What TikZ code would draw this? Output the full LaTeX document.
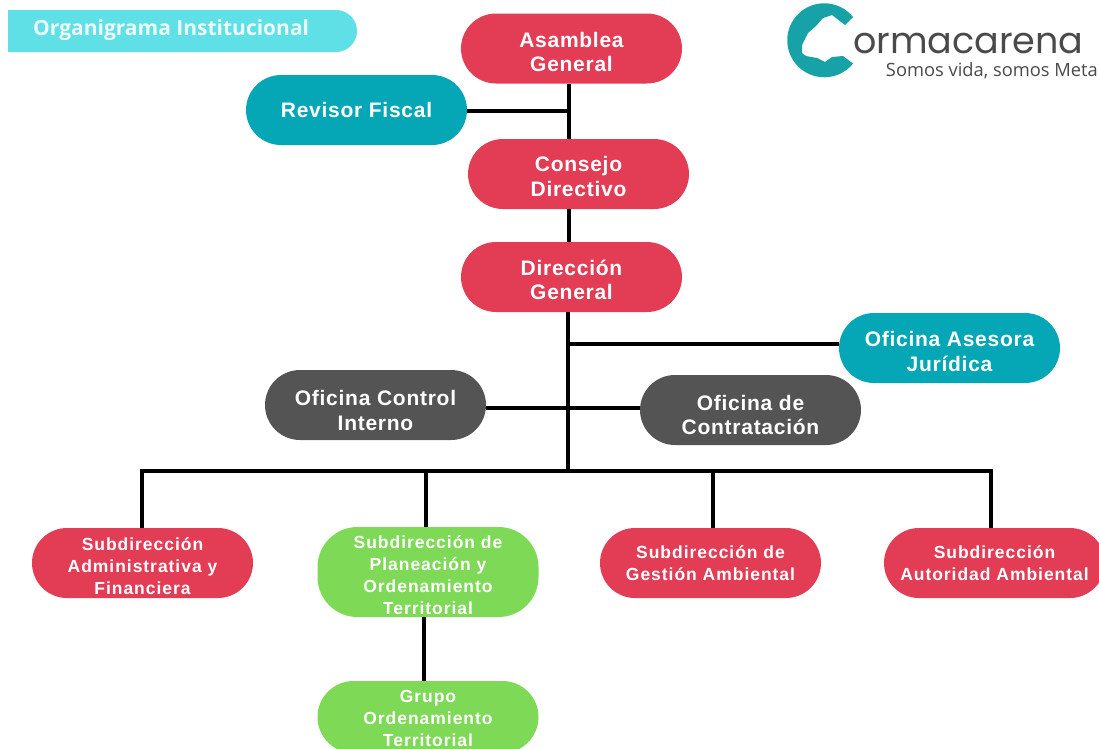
\documentclass[tikz,border=0pt]{standalone}
\usepackage{fontspec}
\newfontfamily\boxfont[LetterSpace=3.5]{Liberation Sans}
\newfontfamily\smallfont[LetterSpace=5.5]{Liberation Sans}
\newfontfamily\titlefont{Open Sans}
\newfontfamily\logofont{Poppins}
\newfontfamily\tagfont{Open Sans}
\newcommand\dn[1]{\rule{0pt}{#1pt}}
\definecolor{redbox}{HTML}{E23D55}
\definecolor{tealbox}{HTML}{05A7B6}
\definecolor{graybox}{HTML}{545454}
\definecolor{greenbox}{HTML}{7ED957}
\definecolor{titlebox}{HTML}{5FE0E6}
\definecolor{logoteal}{HTML}{17A2A8}
\definecolor{logogray}{HTML}{4A4A4A}
\tikzset{
  x=1pt,y=-1pt,
  pill/.style={rectangle,rounded corners=35pt,minimum width=221pt,minimum height=70pt,inner sep=0pt,
    text=white,align=center,font=\boxfont\fontsize{21}{24.5}\selectfont\bfseries},
  small/.style={font=\smallfont\fontsize{17.5}{22}\selectfont\bfseries},
  link/.style={draw=black,line width=4pt},
}
\begin{document}
\begin{tikzpicture}
\useasboundingbox (0,0) rectangle (1099,748);
\clip (0,0) rectangle (1099,748);
% title
\fill[titlebox] (8,10) -- (336,10) arc[start angle=90,end angle=-90,radius=21pt] -- (8,52) -- cycle;
\node[text=white!88!titlebox,font=\titlefont\fontsize{21}{22}\selectfont\bfseries,anchor=west,inner sep=0pt] (title) at (33,30.5) {Organigrama Institucional};
% logo
\fill[logoteal] (853,17) arc[start angle=39,end angle=321,radius=37pt]
  -- (843,56) -- (832,57) -- (825,62) -- (817,58) -- (806,56) -- (802,53) -- (802,45) -- (808,33) -- (816,26) -- (823,18) -- (832,15) -- (845,25) -- cycle;
\node[text=logogray,font=\logofont\fontsize{36.5}{40}\selectfont,anchor=base west,inner sep=0pt] (logoname) at (853,53) {ormacarena};
\node[text=logogray,font=\tagfont\fontsize{18.3}{20}\selectfont,anchor=base east,inner sep=0pt] (logotag) at (1098,76) {Somos vida, somos Meta};
% junctions
\coordinate (trunk) at (569,0);
\coordinate (trunkb) at (568,0);
\coordinate (busy) at (0,471);
\coordinate (rev) at (0,111);
\coordinate (ase) at (0,344);
\coordinate (ofi) at (0,408);
\coordinate (dropa) at (142,0);
\coordinate (dropb) at (426,0);
\coordinate (dropc) at (713,0);
\coordinate (dropd) at (991,0);
\coordinate (dropg) at (424,0);
% nodes
\node[pill,fill=redbox] (asamblea) at (571.5,48.5) {\dn{22}Asamblea\\General};
\node[pill,fill=tealbox] (revisor) at (356.5,110) {Revisor Fiscal};
\node[pill,fill=redbox] (consejo) at (578.5,174) {\dn{20}Consejo\\Directivo};
\node[pill,fill=redbox] (direccion) at (571.5,277) {\dn{21}Dirección\\General};
\node[pill,fill=tealbox] (asesora) at (949.5,348) {\dn{22}Oficina Asesora\\Jurídica};
\node[pill,fill=graybox] (control) at (375.5,405) {\dn{26}Oficina Control\\Interno};
\node[pill,fill=graybox] (contrat) at (750.5,410) {\dn{25}Oficina de\\Contratación};
\node[pill,small,fill=redbox] (subadm) at (142.5,563) {\dn{19}Subdirección\\Administrativa y\\Financiera};
\node[pill,small,fill=greenbox,minimum height=90pt,rounded corners=40pt] (subpla) at (428,572) {\dn{19}Subdirección de\\Planeación y\\Ordenamiento\\Territorial};
\node[pill,small,fill=redbox] (subges) at (710.5,563) {Subdirección de\\Gestión Ambiental};
\node[pill,small,fill=redbox] (subaut) at (994.5,563) {Subdirección\\Autoridad Ambiental};
\node[pill,small,fill=greenbox,minimum height=72pt,rounded corners=36pt] (grupo) at (428,717) {\dn{16}Grupo\\Ordenamiento\\Territorial};
% connectors
\draw[link] (trunk |- asamblea.south) -- (trunk |- consejo.north);
\draw[link] (trunk |- consejo.south) -- (trunk |- direccion.north);
\draw[link] (trunkb |- direccion.south) -- (trunkb |- busy);
\draw[link] (revisor.east |- rev) -- (trunk |- rev);
\draw[link] (trunkb |- ase) -- (asesora.west |- ase);
\draw[link] (control.east |- ofi) -- (contrat.west |- ofi);
\draw[link,line cap=rect] (dropa |- busy) -- (dropd |- busy);
\draw[link] (dropa |- busy) -- (dropa |- subadm.north);
\draw[link] (dropb |- busy) -- (dropb |- subpla.north);
\draw[link] (dropc |- busy) -- (dropc |- subges.north);
\draw[link] (dropd |- busy) -- (dropd |- subaut.north);
\draw[link] (dropg |- subpla.south) -- (dropg |- grupo.north);
\end{tikzpicture}
\end{document}
